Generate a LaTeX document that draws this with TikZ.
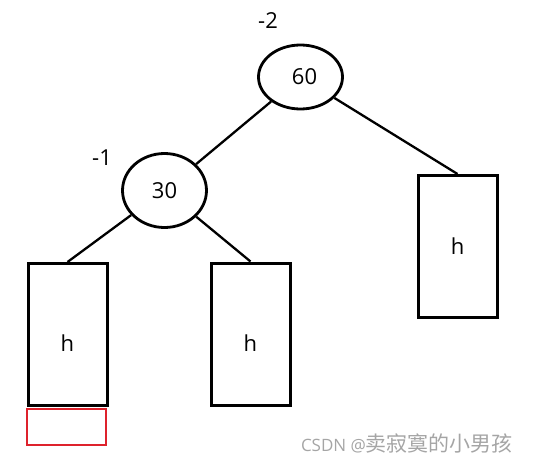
\documentclass[tikz,border=0pt]{standalone}
\usepackage{fontspec}
\setmainfont{Open Sans}
\newfontfamily\cjk{Noto Sans CJK SC}
\usetikzlibrary{shapes.geometric}
\definecolor{markred}{RGB}{222,34,44}
\definecolor{wmgray}{RGB}{165,165,165}
\begin{document}
\begin{tikzpicture}[x=1pt,y=-1pt,
  treenode/.style={ellipse,draw,line width=2.8pt,inner sep=0pt,minimum width=84pt,font=\fontsize{22}{26}\selectfont},
  hbox/.style={rectangle,draw,line width=3pt,minimum width=79pt,minimum height=142pt,inner sep=0pt,font=\fontsize{22}{26}\selectfont},
  lowtext/.style={text height=34pt,text depth=0pt},
  branch/.style={line width=2.3pt},
  balance/.style={font=\fontsize{22}{26}\selectfont}]
\useasboundingbox (0,0) rectangle (539,466);

\node[treenode,minimum height=64pt] (n60) at (300.5,77) {\hspace{8pt}60};
\node[treenode,minimum height=74pt] (n30) at (164.5,190.5) {30};

\node[hbox,lowtext] (hl) at (67.5,334.5) {h};
\node[hbox,lowtext] (hm) at (250.5,334) {h};
\node[hbox] (hr) at (457.5,246.5) {h};
\node[draw=markred,line width=2.4pt,minimum width=79pt,minimum height=36pt,inner sep=0pt] (grow) at (66.5,427) {};

\draw[branch] (n60) -- (n30);
\draw[branch] (n60) -- (hr.north);
\draw[branch] (n30) -- (hl.north);
\draw[branch] (n30) -- (hm.north);

\node[balance] (b60) at (268,21) {-2};
\node[balance] (b30) at (102,158) {-1};

\node[text=wmgray,font=\fontsize{17}{20}\selectfont] (wm) at (407,443) {CSDN @{\cjk\fontsize{21}{24}\selectfont 卖寂寞的小男孩}};
\end{tikzpicture}
\end{document}
